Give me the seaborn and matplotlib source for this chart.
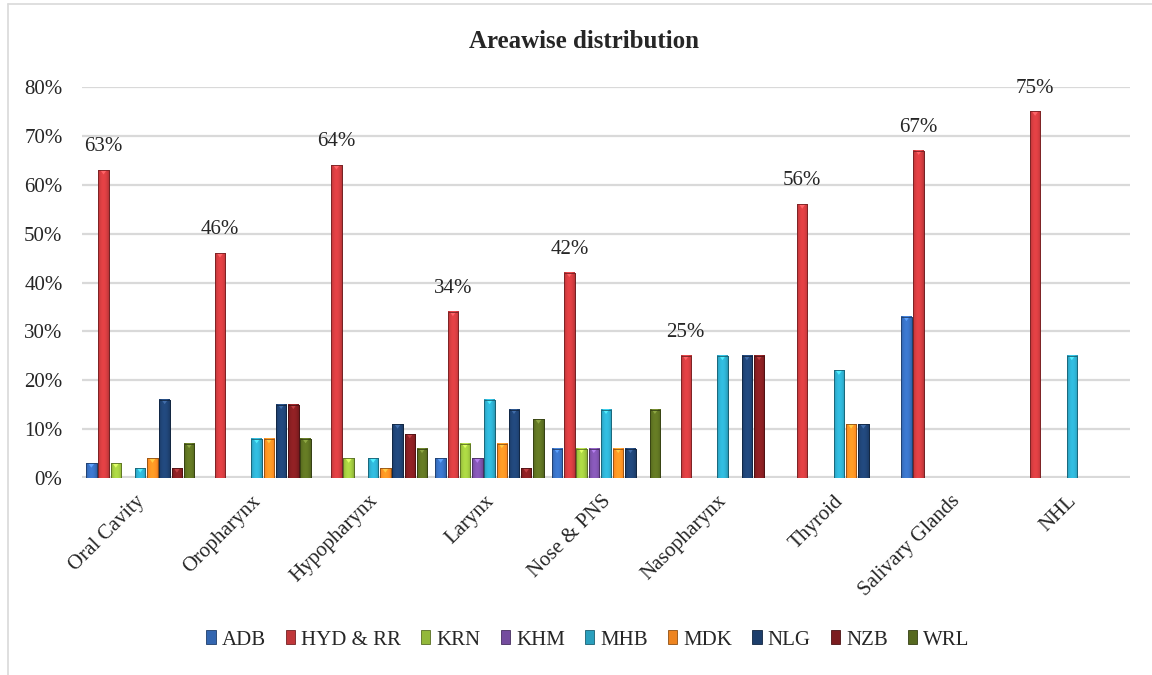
import numpy as np
import pandas as pd
import matplotlib
matplotlib.use("Agg")
import matplotlib.pyplot as plt
import matplotlib.colors as mcolors
from matplotlib.patches import Patch
from matplotlib.lines import Line2D
import seaborn as sns

# Share of cases (%) per head & neck site for each centre
sites = ["Oral Cavity", "Oropharynx", "Hypopharynx", "Larynx", "Nose & PNS",
         "Nasopharynx", "Thyroid", "Salivary Glands", "NHL"]
centres = ["ADB", "HYD & RR", "KRN", "KHM", "MHB", "MDK", "NLG", "NZB", "WRL"]
nan = np.nan
adb = [3, nan, nan, 4, 6, nan, nan, 33, nan]
hyd_rr = [63, 46, 64, 34, 42, 25, 56, 67, 75]
krn = [3, nan, 4, 7, 6, nan, nan, nan, nan]
khm = [nan, nan, nan, 4, 6, nan, nan, nan, nan]
mhb = [2, 8, 4, 16, 14, 25, 22, nan, 25]
mdk = [4, 8, 2, 7, 6, nan, 11, nan, nan]
nlg = [16, 15, 11, 14, 6, 25, 11, nan, nan]
nzb = [2, 15, 9, 2, nan, 25, nan, nan, nan]
wrl = [7, 8, 6, 12, 14, nan, nan, nan, nan]
yticks = [0, 10, 20, 30, 40, 50, 60, 70, 80]

palette = ["#3366b0", "#c0373a", "#93b83a", "#744c9e", "#2a9fbd",
           "#ee8420", "#1d3e6b", "#7b1c1f", "#56691f"]

series = [adb, hyd_rr, krn, khm, mhb, mdk, nlg, nzb, wrl]
df = pd.DataFrame({
    "site": np.tile(sites, len(centres)),
    "centre": np.repeat(centres, len(sites)),
    "share": np.concatenate(series),
})

sns.set_theme(style="white")
plt.rcParams["font.family"] = ["Liberation Serif", "DejaVu Serif"]

fig = plt.figure(figsize=(11.52, 6.75), dpi=100)
ax = fig.add_axes([82 / 1152, 1 - 478 / 675, (1130 - 82) / 1152, (478 - 87) / 675])

sns.barplot(data=df, x="site", y="share", hue="centre", order=sites,
            hue_order=centres, palette=palette, width=0.945, dodge=True,
            errorbar=None, ax=ax, legend=False, zorder=3)

# Narrow each bar inside its slot and give it a bevelled, shaded look
grad = np.linspace(-1, 1, 64)
shade = 1 - 0.55 * grad ** 2
for container, col in zip(ax.containers, palette):
    base = np.array(mcolors.to_rgb(col))
    dark = base * 0.6
    for bar in container:
        h = bar.get_height()
        if not np.isfinite(h) or h <= 0:
            continue
        w = bar.get_width()
        new_w = w * 0.86
        bar.set_x(bar.get_x() + (w - new_w) / 2)
        bar.set_width(new_w)
        bar.set_edgecolor(dark)
        bar.set_linewidth(0.6)
        x0 = bar.get_x()
        light = np.clip(base * (0.75 + 0.45 * shade[:, None]), 0, 1)
        img = light[None, :, :]
        ax.imshow(img, extent=[x0, x0 + new_w, 0, h], aspect="auto",
                  zorder=3.5, interpolation="bilinear")
        # small triangular cap highlight on top of the bar
        tri_h = min(0.9, h * 0.5)
        ax.fill([x0 + new_w * 0.2, x0 + new_w * 0.8, x0 + new_w * 0.5],
                [h, h, h - tri_h], color=np.clip(base * 1.35 + 0.1, 0, 1),
                zorder=3.6, lw=0)
        ax.plot([x0, x0 + new_w, x0 + new_w, x0, x0], [0, 0, h, h, 0],
                color=dark, lw=0.6, zorder=3.7)

ax.set_xlim(-0.5, len(sites) - 0.5)
ax.set_ylim(0, 80)
ax.set_yticks(yticks)
ax.set_yticklabels([f"{t}%" for t in yticks], fontsize=15)
ax.tick_params(axis="y", length=0, pad=14)
ax.tick_params(axis="x", length=0, pad=4)
ax.set_xticks(range(len(sites)))
ax.set_xticklabels(sites, rotation=45, ha="right", va="top",
                   rotation_mode="anchor", fontsize=15)
for lbl in ax.get_xticklabels():
    lbl.set_transform(lbl.get_transform() +
                      matplotlib.transforms.ScaledTranslation(-5 / 100, -8 / 100, fig.dpi_scale_trans))
ax.set_xlabel("")
ax.set_ylabel("")
for side in ["top", "right", "left", "bottom"]:
    ax.spines[side].set_visible(False)
ax.yaxis.grid(True, color="#d9d9d9", lw=1.6, zorder=0)
ax.set_axisbelow(True)
ax.axhline(0, color="#d9d9d9", lw=3, zorder=2)

# Value labels on the HYD & RR series
hyd_idx = centres.index("HYD & RR")
ax.bar_label(ax.containers[hyd_idx], labels=[f"{v:.0f}%" for v in hyd_rr],
             padding=10, fontsize=15)

fig.text(584 / 1152, 1 - 41 / 675, "Areawise distribution", ha="center",
         va="center", fontsize=18, fontweight="bold")

handles = [Patch(facecolor=c, edgecolor=np.array(mcolors.to_rgb(c)) * 0.6, lw=0.6)
           for c in palette]
fig.legend(handles, centres, loc="center", bbox_to_anchor=(588 / 1152, 1 - 640 / 675),
           ncol=len(centres), frameon=False, fontsize=15, handlelength=0.45,
           handleheight=0.65, handletextpad=0.3, columnspacing=0.95)

# Outer chart frame
fig.add_artist(Line2D([8 / 1152, 1], [1 - 4 / 675, 1 - 4 / 675],
                      transform=fig.transFigure, color="#d9d9d9", lw=1.2))
fig.add_artist(Line2D([8 / 1152, 8 / 1152], [0, 1 - 4 / 675],
                      transform=fig.transFigure, color="#d9d9d9", lw=1.2))

fig.savefig("out.png", dpi=100, facecolor="white")
